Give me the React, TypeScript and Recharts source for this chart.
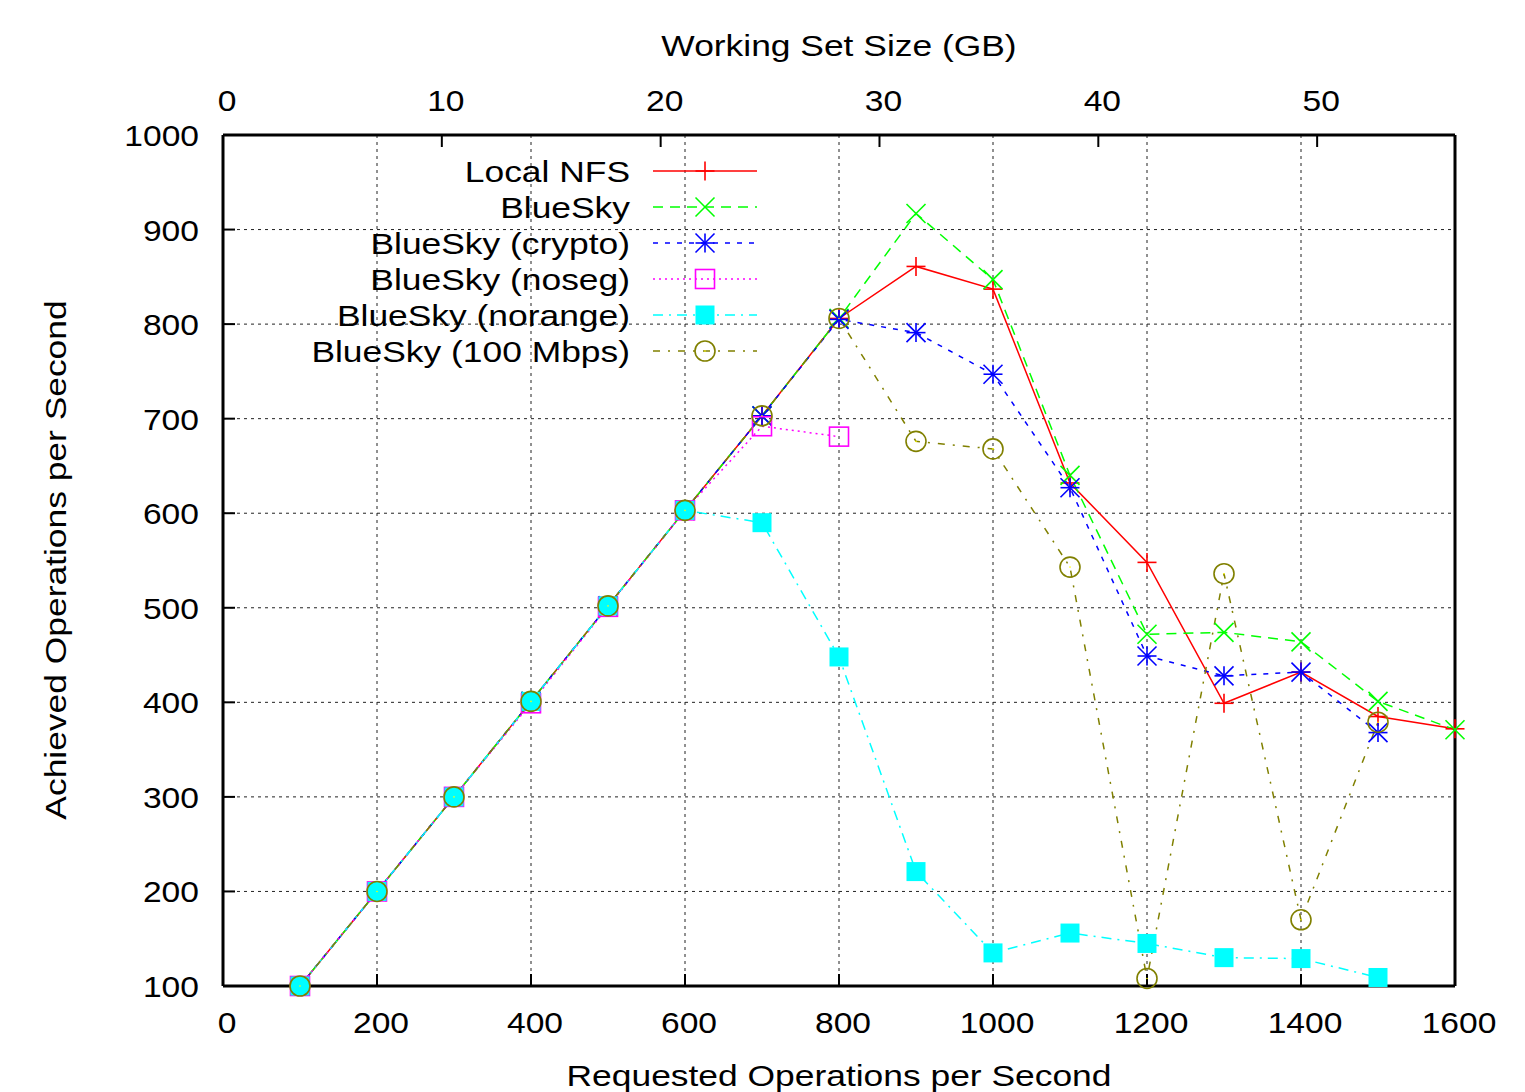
import React from "react";
import { LineChart, Line, XAxis, YAxis, CartesianGrid, Legend } from "recharts";

const requested = [100, 200, 300, 400, 500, 600, 700, 800, 900, 1000, 1100, 1200, 1300, 1400, 1500, 1600];
const localNfs = [100, 200, 300, 401, 502, 603, 703, 806, 861, 837, 632, 548, 399, 432, 385, 372];
const blueSky = [100, 200, 300, 401, 502, 603, 703, 806, 917, 847, 640, 472, 474, 464, 401, 371];
const blueSkyCrypto = [100, 200, 300, 401, 502, 603, 703, 805, 791, 747, 627, 449, 428, 432, 368, null];
const blueSkyNoseg = [100, 200, 300, 399, 501, 603, 692, 681, null, null, null, null, null, null, null, null];
const blueSkyNorange = [100, 200, 300, 401, 502, 603, 590, 448, 221, 135, 156, 145, 130, 129, 109, null];
const blueSky100 = [100, 200, 300, 401, 502, 603, 703, 806, 676, 668, 543, 108, 536, 170, 379, null];

const xTicks = [0, 200, 400, 600, 800, 1000, 1200, 1400, 1600];
const yTicks = [100, 200, 300, 400, 500, 600, 700, 800, 900, 1000];
const topTicks = [0, 10, 20, 30, 40, 50];
const topMax = 56.3;

type SeriesDef = { key: string; name: string; values: (number | null)[]; color: string; dash?: string; marker: string };

const SERIES: SeriesDef[] = [
  { key: "nfs", name: "Local NFS", values: localNfs, color: "#ff0000", dash: undefined, marker: "plus" },
  { key: "bs", name: "BlueSky", values: blueSky, color: "#00ff00", dash: "10 7", marker: "cross" },
  { key: "crypto", name: "BlueSky (crypto)", values: blueSkyCrypto, color: "#0000ff", dash: "5 7", marker: "star" },
  { key: "noseg", name: "BlueSky (noseg)", values: blueSkyNoseg, color: "#ff00ff", dash: "2 4", marker: "osq" },
  { key: "norange", name: "BlueSky (norange)", values: blueSkyNorange, color: "#00ffff", dash: "10 6 2 6", marker: "fsq" },
  { key: "mbps", name: "BlueSky (100 Mbps)", values: blueSky100, color: "#808000", dash: "7 8 2 8", marker: "circle" },
];

const data = requested.map((x, i) => {
  const row: Record<string, number | null> = { x };
  SERIES.forEach((s) => {
    row[s.key] = s.values[i];
  });
  return row;
});

const FONT = "'Liberation Sans', Arial, Helvetica, sans-serif";

function SText({ x, y, anchor, sx, rotate = 0, children }: any) {
  return (
    <text
      transform={`translate(${x},${y}) rotate(${rotate}) scale(${sx},1)`}
      textAnchor={anchor}
      fontFamily={FONT}
      fontSize={30}
      fill="#000"
    >
      {children}
    </text>
  );
}

function marker(kind: string, cx: number, cy: number, color: string) {
  const r = 9.5;
  const sw = 1.6;
  switch (kind) {
    case "plus":
      return (
        <g stroke={color} strokeWidth={sw}>
          <line x1={cx - r} x2={cx + r} y1={cy} y2={cy} />
          <line x1={cx} x2={cx} y1={cy - r} y2={cy + r} />
        </g>
      );
    case "cross":
      return (
        <g stroke={color} strokeWidth={sw}>
          <line x1={cx - r} x2={cx + r} y1={cy - r} y2={cy + r} />
          <line x1={cx - r} x2={cx + r} y1={cy + r} y2={cy - r} />
        </g>
      );
    case "star":
      return (
        <g stroke={color} strokeWidth={sw}>
          <line x1={cx - r} x2={cx + r} y1={cy} y2={cy} />
          <line x1={cx} x2={cx} y1={cy - r} y2={cy + r} />
          <line x1={cx - r} x2={cx + r} y1={cy - r} y2={cy + r} />
          <line x1={cx - r} x2={cx + r} y1={cy + r} y2={cy - r} />
        </g>
      );
    case "osq":
      return <rect x={cx - r} y={cy - r} width={2 * r} height={2 * r} fill="none" stroke={color} strokeWidth={sw} />;
    case "fsq":
      return <rect x={cx - r} y={cy - r} width={2 * r} height={2 * r} fill={color} stroke="none" />;
    case "circle":
      return (
        <g>
          <circle cx={cx} cy={cy} r={10} fill="none" stroke={color} strokeWidth={sw} />
          <circle cx={cx} cy={cy} r={0.8} fill="#ffff00" />
        </g>
      );
    default:
      return null;
  }
}

const LeftTick = (p: any) => (
  <SText x={p.x} y={p.y + 11} anchor="end" sx={1.12}>
    {p.payload.value}
  </SText>
);
const BottomTick = (p: any) => (
  <SText x={p.x + 4} y={p.y + 11} anchor="middle" sx={1.12}>
    {p.payload.value}
  </SText>
);
const TopTick = (p: any) => (
  <SText x={p.x + 4} y={p.y + 11} anchor="middle" sx={1.12}>
    {p.payload.value}
  </SText>
);

const legendContent = () => (
  <svg width={480} height={230} style={{ display: "block" }}>
    {SERIES.map((s, i) => {
      const cy = 21 + 36 * i;
      return (
        <g key={s.key}>
          <SText x={330} y={cy + 11} anchor="end" sx={1.18}>
            {s.name}
          </SText>
          <line x1={353} x2={457} y1={cy} y2={cy} stroke={s.color} strokeWidth={1.5} strokeDasharray={s.dash} />
          {marker(s.marker, 405, cy, s.color)}
        </g>
      );
    })}
  </svg>
);

const axisLine = { stroke: "#000", strokeWidth: 3 };
const tickLine = { stroke: "#000", strokeWidth: 2 };

export default function App() {
  return (
    <LineChart width={1509} height={1084} data={data} margin={{ top: 67, right: 42, bottom: 46, left: 115 }}>
      <CartesianGrid stroke="#222" strokeDasharray="3 4" strokeWidth={1} />
      <XAxis
        dataKey="x"
        type="number"
        domain={[0, 1600]}
        ticks={xTicks}
        height={60}
        axisLine={axisLine}
        tickLine={tickLine}
        tickSize={-12}
        tickMargin={48}
        tick={<BottomTick />}
        interval={0}
        label={{
          content: () => (
            <SText x={831} y={1078} anchor="middle" sx={1.18}>
              Requested Operations per Second
            </SText>
          ),
        }}
      />
      <XAxis
        xAxisId="top"
        dataKey="workingSetUnused"
        orientation="top"
        type="number"
        domain={[0, topMax]}
        allowDataOverflow
        ticks={topTicks}
        height={60}
        axisLine={axisLine}
        tickLine={tickLine}
        tickSize={-12}
        tickMargin={47}
        tick={<TopTick />}
        interval={0}
        label={{
          content: () => (
            <SText x={831} y={48} anchor="middle" sx={1.18}>
              Working Set Size (GB)
            </SText>
          ),
        }}
      />
      <YAxis
        type="number"
        domain={[100, 1000]}
        ticks={yTicks}
        width={100}
        axisLine={axisLine}
        tickLine={tickLine}
        tickSize={-12}
        tickMargin={36}
        tick={<LeftTick />}
        interval={0}
        label={{
          content: () => (
            <SText x={58} y={552} anchor="middle" sx={1.18} rotate={-90}>
              Achieved Operations per Second
            </SText>
          ),
        }}
      />
      <YAxis
        yAxisId="r"
        orientation="right"
        type="number"
        domain={[100, 1000]}
        allowDataOverflow
        ticks={yTicks}
        width={20}
        axisLine={axisLine}
        tickLine={tickLine}
        tickSize={-12}
        tick={false}
        interval={0}
      />
      <Legend
        layout="vertical"
        align="center"
        verticalAlign="middle"
        wrapperStyle={{ position: "absolute", left: 292, top: 142, width: 480, height: 230 }}
        content={legendContent}
      />
      {SERIES.map((s) => (
        <Line
          key={s.key}
          dataKey={s.key}
          name={s.name}
          type="linear"
          stroke={s.color}
          strokeWidth={1.5}
          strokeDasharray={s.dash}
          isAnimationActive={false}
          connectNulls={false}
          activeDot={false}
          dot={(p: any) => {
            if (p.value == null || p.cx == null || p.cy == null) return <g key={`${s.key}-${p.index}`} />;
            return <g key={`${s.key}-${p.index}`}>{marker(s.marker, p.cx, p.cy, s.color)}</g>;
          }}
        />
      ))}
    </LineChart>
  );
}
